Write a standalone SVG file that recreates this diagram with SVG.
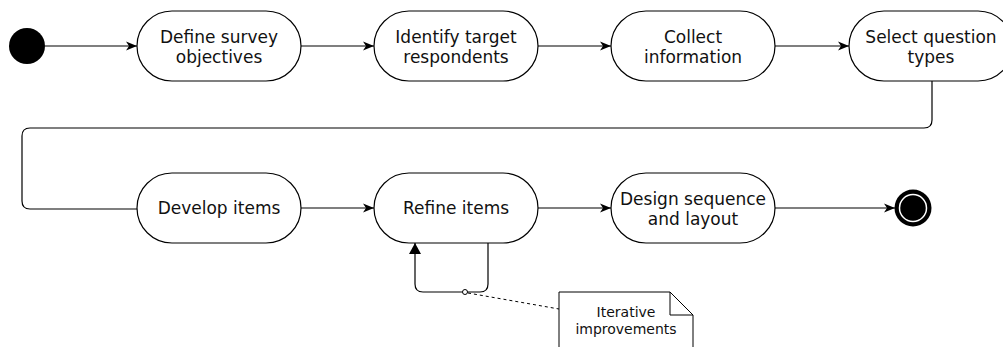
<svg xmlns="http://www.w3.org/2000/svg" width="1003" height="347" viewBox="0 0 1003 347">
<defs>
<marker id="arr" viewBox="0 0 12 10" refX="11" refY="5" markerWidth="12" markerHeight="10" markerUnits="userSpaceOnUse" orient="auto">
<path d="M0,0.5 L11,5 L0,9.5 L3,5 Z" fill="#000"/>
</marker>
<marker id="blk" viewBox="0 0 12 12" refX="11" refY="6" markerWidth="12" markerHeight="12" markerUnits="userSpaceOnUse" orient="auto">
<path d="M0,0 L11,6 L0,12 Z" fill="#000"/>
</marker>
</defs>
<style>
.node rect{fill:#fff;stroke:#000;stroke-width:1.2}
text{font-family:"DejaVu Sans",Verdana,sans-serif;font-size:17px;fill:#111;text-anchor:middle}
.note text{font-size:14px}
.c{fill:none;stroke:#000;stroke-width:1.2}
</style>
<rect width="1003" height="347" fill="#fff"/>
<g id="connectors">
<path class="c" d="M45,46 H137" marker-end="url(#arr)"/>
<path class="c" d="M301,46 H374" marker-end="url(#arr)"/>
<path class="c" d="M538,46 H611" marker-end="url(#arr)"/>
<path class="c" d="M775,46 H849" marker-end="url(#arr)"/>
<path class="c" d="M932,81 V120 Q932,128 924,128 H30 Q22,128 22,136 V201 Q22,209 30,209 H137"/>
<path class="c" d="M301,208 H374" marker-end="url(#arr)"/>
<path class="c" d="M538,208 H611" marker-end="url(#arr)"/>
<path class="c" d="M775,208 H895" marker-end="url(#arr)"/>
<path class="c" d="M488,243 V284 Q488,292 480,292 H423 Q415,292 415,284 V243" marker-end="url(#blk)"/>
<circle cx="465" cy="292" r="2.5" fill="#fff" stroke="#000" stroke-width="1"/>
<path d="M468,293 L559,309" fill="none" stroke="#000" stroke-width="1" stroke-dasharray="3,3"/>
</g>
<g id="start"><circle cx="27" cy="46" r="18" fill="#000"/></g>
<g id="n1" class="node"><rect x="137" y="11" width="164" height="70" rx="35"/><text x="219" y="43">Define survey</text><text x="219" y="63">objectives</text></g>
<g id="n2" class="node"><rect x="374" y="11" width="164" height="70" rx="35"/><text x="456" y="43">Identify target</text><text x="456" y="63">respondents</text></g>
<g id="n3" class="node"><rect x="611" y="11" width="164" height="70" rx="35"/><text x="693" y="43">Collect</text><text x="693" y="63">information</text></g>
<g id="n4" class="node"><rect x="849" y="11" width="164" height="70" rx="35"/><text x="931" y="43">Select question</text><text x="931" y="63">types</text></g>
<g id="n5" class="node"><rect x="137" y="173" width="164" height="70" rx="35"/><text x="219" y="214">Develop items</text></g>
<g id="n6" class="node"><rect x="374" y="173" width="164" height="70" rx="35"/><text x="456" y="214">Refine items</text></g>
<g id="n7" class="node"><rect x="611" y="173" width="164" height="70" rx="35"/><text x="693" y="205">Design sequence</text><text x="693" y="225">and layout</text></g>
<g id="end"><circle cx="913" cy="208" r="18.5" fill="#000"/><circle cx="913" cy="208" r="13.5" fill="#000" stroke="#fff" stroke-width="1.5"/></g>
<g id="note" class="note">
<path d="M559,292 H670 L693,315 V350 H559 Z" fill="#fff" stroke="#000" stroke-width="1"/>
<path d="M670,292 V315 H693" fill="none" stroke="#000" stroke-width="1"/>
<text x="626" y="317">Iterative</text><text x="626" y="334">improvements</text>
</g>
</svg>
